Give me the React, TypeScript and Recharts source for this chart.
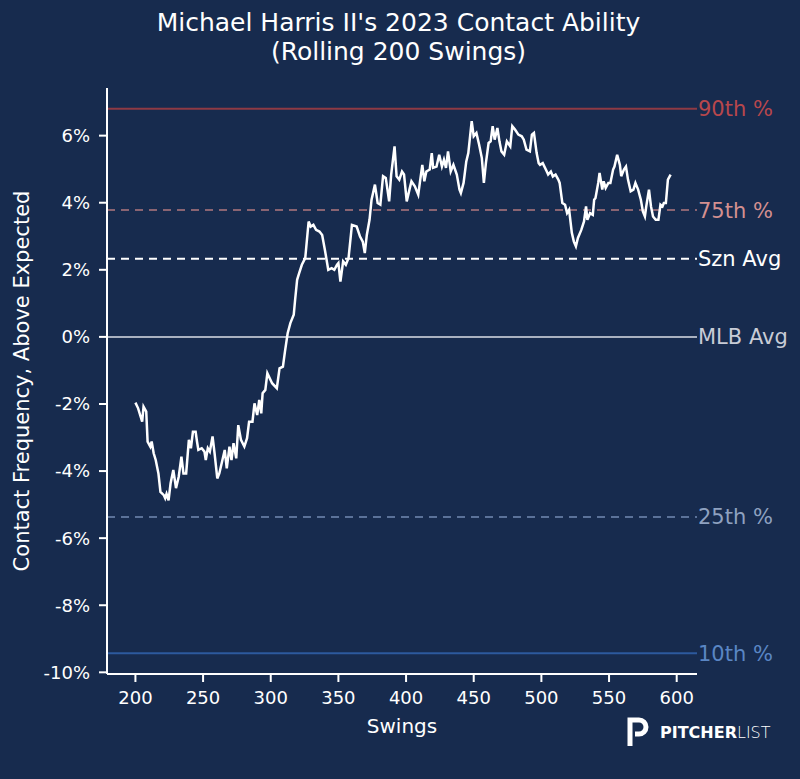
import React from 'react';
import { LineChart, Line, XAxis, YAxis, ReferenceLine } from 'recharts';

const swings = [200,202,205,206,208,209,211,212,213.5,215,217,218.5,221,222,223,224.5,226,228,230,232,234,235.5,237.5,239.5,241,242.5,244.5,245.5,246.5,249,251,252,253.5,255,257,258.5,260.5,262,264,266,267.5,269.5,271,272.5,274.5,276,278,280.5,282.5,284,286.5,288,290,291.5,293,294,296,297.5,301,304.5,306.5,309,310.5,312.5,314.5,317,318,319.5,321,323,325.5,328,329.5,331.5,333.5,336,338,340,342.5,345,347,349,350,351.5,353.5,355.5,357.5,360,363.5,366,368,369.5,371,373,374.5,377,379,381,383,385,387.5,389,391.5,393,395,397,398.5,400.5,402.5,404,406.5,409,410.5,412,413.5,415,417.5,419,420,422.5,424.5,426.5,428,429.5,431,433,435,437.5,439.5,440.5,442.5,444.5,446,448.5,450,452,454,456,457.5,459,461,462.5,464,465.5,467.5,469,470.5,472.5,474.5,477,478.5,480.5,483,485.5,487,489,491.5,493,494.5,496.5,498,499,501,504,505,507,508.5,510.5,512.5,513.5,515.5,517.5,519,520.5,522.5,524,525.5,527,529.5,531.5,533,534,536,538,539,540,542,543,545,546,547.5,549.5,551,553,554,556,558,559,561,562.5,564,566,568,569.5,571.5,573.5,575,576.5,577.5,579.5,581,582.5,584.5,586.5,588,589.5,590.5,592,593.5,595.5];
const contact = [-1.96,-2.13,-2.53,-2.08,-2.23,-3.12,-3.27,-3.12,-3.47,-3.67,-4.07,-4.62,-4.72,-4.81,-4.68,-4.87,-4.36,-3.97,-4.51,-4.17,-3.57,-4.07,-4.07,-3.07,-3.32,-2.83,-2.83,-3.12,-3.37,-3.32,-3.42,-3.67,-3.32,-3.42,-2.97,-3.47,-4.22,-4.07,-3.72,-3.37,-3.92,-3.27,-3.67,-3.17,-3.62,-2.63,-3.07,-3.27,-3.02,-2.53,-2.53,-1.98,-2.33,-1.88,-2.28,-1.68,-1.58,-1.08,-1.38,-1.53,-0.94,-0.89,-0.44,0.11,0.41,0.66,1.1,1.7,1.9,2.15,2.35,3.44,3.29,3.34,3.19,3.14,3.04,2.6,2.0,2.05,2.0,2.15,2.2,1.65,2.25,2.15,2.35,3.34,3.29,2.99,2.84,2.5,3.04,3.49,4.09,4.54,3.99,3.94,4.79,4.74,4.04,4.84,5.68,4.79,4.69,4.93,4.84,4.04,4.39,4.64,4.49,4.24,4.69,5.13,4.64,4.93,4.99,5.48,5.04,5.08,5.43,5.08,5.28,5.04,5.53,4.93,5.13,4.84,4.39,4.29,4.59,5.23,5.48,6.43,5.98,6.08,5.73,5.33,4.59,5.18,5.78,5.83,6.28,5.88,6.23,5.83,5.53,5.43,5.83,5.68,6.28,6.18,6.03,5.98,5.88,5.58,5.53,6.03,6.08,5.48,5.18,5.13,5.18,4.93,4.84,4.93,4.78,4.84,4.69,4.59,3.99,3.94,3.69,3.79,3.1,2.84,2.7,2.95,3.19,3.44,3.89,3.49,3.69,3.64,4.09,4.14,4.59,4.89,4.39,4.64,4.44,4.59,4.59,4.99,5.08,5.43,5.13,4.79,4.99,5.08,4.69,4.34,4.39,4.59,4.39,4.09,3.74,3.59,3.89,4.39,3.89,3.59,3.49,3.49,3.94,3.89,3.99,3.99,4.69,4.84];

const xTicks = [200, 250, 300, 350, 400, 450, 500, 550, 600];
const yTicks = [-10, -8, -6, -4, -2, 0, 2, 4, 6];

const refNames = ['90th %', '75th %', 'Szn Avg', 'MLB Avg', '25th %', '10th %'];
const refValues = [6.8, 3.78, 2.33, 0, -5.37, -9.43];
const refStroke = ['#8e3a44', '#8a6472', '#ffffff', '#a9b1c0', '#5b7299', '#2d5a9e'];
const refText = ['#b8474c', '#d49090', '#ffffff', '#c8ccd6', '#8ea1c0', '#5a86c4'];
const refDash = ['', '8 6', '8 6', '', '8 6', ''];

const data = swings.map((s, i) => ({ s, v: contact[i] }));

const BG = '#172b4e';
const FONT = '"DejaVu Sans", sans-serif';

export default function App() {
  return (
    <div style={{ position: 'absolute', left: 0, top: 0, width: 800, height: 779, background: BG, fontFamily: FONT, overflow: 'hidden' }}>
      <div style={{ position: 'absolute', left: 0, top: 8, width: 797, textAlign: 'center', color: '#ffffff', fontSize: 25, lineHeight: '29px' }}>
        Michael Harris II's 2023 Contact Ability<br />(Rolling 200 Swings)
      </div>
      <LineChart width={800} height={779} data={data} margin={{ top: 88, right: 103, bottom: 0, left: 0 }}>
        <XAxis
          dataKey="s"
          type="number"
          domain={[179, 615]}
          ticks={xTicks}
          height={105}
          stroke="#ffffff"
          tickSize={8}
          tickMargin={9}
          tick={{ fill: '#ffffff', fontSize: 18, fontFamily: FONT }}
          axisLine={{ stroke: '#ffffff', strokeWidth: 2 }}
          tickLine={{ stroke: '#ffffff', strokeWidth: 2 }}
          label={{ value: 'Swings', position: 'insideBottom', offset: 46, fill: '#ffffff', fontSize: 20, fontFamily: FONT }}
        />
        <YAxis
          type="number"
          domain={[-10.05, 7.42]}
          ticks={yTicks}
          allowDataOverflow
          width={107}
          tickFormatter={(v) => `${v}%`}
          tickSize={8}
          tickMargin={9}
          tick={{ fill: '#ffffff', fontSize: 18, fontFamily: FONT }}
          axisLine={{ stroke: '#ffffff', strokeWidth: 2 }}
          tickLine={{ stroke: '#ffffff', strokeWidth: 2 }}
          label={{ value: 'Contact Frequency, Above Expected', angle: -90, position: 'insideLeft', offset: 22, fill: '#ffffff', fontSize: 21, fontFamily: FONT, style: { textAnchor: 'middle' } }}
        />
        {refNames.map((n, i) => (
          <ReferenceLine
            key={n}
            y={refValues[i]}
            stroke={refStroke[i]}
            strokeWidth={2}
            strokeDasharray={refDash[i] || undefined}
            label={{ value: n, position: 'right', offset: 1, fill: refText[i], fontSize: 21, fontFamily: FONT }}
          />
        ))}
        <Line type="linear" dataKey="v" stroke="#ffffff" strokeWidth={2.5} dot={false} isAnimationActive={false} />
      </LineChart>
      <div style={{ position: 'absolute', left: 626, top: 716, display: 'flex', alignItems: 'center', color: '#ffffff' }}>
        <svg width={24} height={32} viewBox="0 0 24 32">
          <path d="M4 30 V4 H13 A7 7 0 0 1 13 18 H9" fill="none" stroke="#ffffff" strokeWidth={5} />
        </svg>
        <span style={{ marginLeft: 10, fontFamily: FONT, fontWeight: 700, fontSize: 16 }}>PITCHER</span>
        <span style={{ fontFamily: FONT, fontWeight: 300, fontSize: 16 }}>LIST</span>
      </div>
    </div>
  );
}
